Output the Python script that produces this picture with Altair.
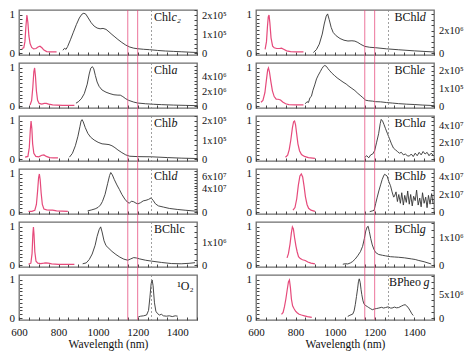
import altair as alt
import pandas as pd
import numpy as np

# ---------------- data ----------------
# fluorescence (normalised, left axis) and phosphorescence (right axis, units of 10^exp)
CHLC2_FLUO = [(614,0.12),(624,0.14),(630,0.3),(635,0.7),(640,1.0),(645,0.8),(650,0.45),(656,0.25),(664,0.15),(674,0.11),(686,0.12),(696,0.16),(706,0.18),(716,0.14),(726,0.08),(740,0.04),(760,0.03),(790,0.03)]
CHLC2_PHOS = [(822,0.15),(830,0.25),(838,0.2),(846,0.35),(860,0.7),(875,1.1),(890,1.5),(905,1.85),(918,2.05),(928,2.1),(938,2.05),(950,1.85),(965,1.6),(980,1.42),(995,1.32),(1010,1.28),(1025,1.3),(1040,1.25),(1055,1.12),(1070,0.98),(1085,0.85),(1100,0.72),(1120,0.56),(1140,0.42),(1160,0.32),(1180,0.26),(1200,0.23),(1230,0.2),(1260,0.18),(1300,0.14),(1340,0.11),(1380,0.09),(1420,0.07),(1460,0.05),(1500,0.03)]

CHLA_FLUO = [(656,0.03),(664,0.15),(670,0.5),(675,0.9),(679,1.0),(683,0.8),(688,0.4),(694,0.15),(702,0.07),(715,0.05),(728,0.07),(738,0.07),(750,0.05),(770,0.03),(820,0.02),(880,0.02)]
CHLA_PHOS = [(888,0.4),(900,0.6),(915,1.0),(930,1.7),(945,3.0),(955,4.4),(963,5.2),(971,5.4),(978,5.1),(986,4.2),(995,3.3),(1005,2.7),(1020,2.2),(1040,1.9),(1060,1.7),(1080,1.55),(1100,1.5),(1112,1.5),(1125,1.3),(1140,1.0),(1155,0.78),(1180,0.55),(1200,0.42),(1240,0.32),(1280,0.25),(1320,0.2),(1380,0.14),(1440,0.1),(1500,0.06)]

CHLB_FLUO = [(631,0.05),(645,0.07),(652,0.3),(657,0.75),(661,1.0),(665,0.8),(669,0.4),(675,0.15),(685,0.07),(700,0.06),(715,0.1),(726,0.11),(738,0.07),(755,0.04),(775,0.03),(797,0.03)]
CHLB_PHOS = [(855,0.1),(870,0.3),(885,0.7),(898,1.2),(908,1.7),(914,2.0),(919,2.07),(925,1.95),(935,1.65),(948,1.35),(962,1.15),(980,1.0),(1000,0.88),(1020,0.8),(1040,0.78),(1055,0.76),(1070,0.7),(1085,0.6),(1100,0.48),(1120,0.34),(1140,0.22),(1160,0.15),(1200,0.13),(1270,0.12),(1350,0.08),(1420,0.05),(1500,0.03)]

CHLD_FLUO = [(648,0.02),(665,0.02),(680,0.05),(688,0.2),(694,0.55),(699,0.9),(703,1.0),(707,0.85),(712,0.5),(718,0.2),(726,0.08),(740,0.06),(755,0.05),(770,0.05),(790,0.03),(847,0.02)]
CHLD_PHOS = [(947,0.2),(965,0.35),(985,0.55),(1000,0.8),(1012,1.2),(1022,1.8),(1035,3.0),(1048,4.8),(1058,6.2),(1064,6.7),(1072,6.3),(1082,5.5),(1095,4.6),(1108,3.8),(1120,3.0),(1135,2.2),(1148,1.7),(1158,1.5),(1168,1.85),(1180,1.75),(1192,1.5),(1202,1.4),(1215,1.6),(1228,1.9),(1242,2.0),(1255,2.15),(1268,2.4),(1278,2.0),(1290,1.4),(1305,1.05),(1330,0.85),(1360,0.62),(1400,0.45),(1440,0.32),(1480,0.2),(1500,0.15)]

BCHLC_FLUO = [(648,0.02),(660,0.05),(666,0.3),(670,0.8),(673,1.0),(676,0.8),(680,0.35),(686,0.1),(695,0.05),(710,0.04),(725,0.05),(736,0.06),(748,0.05),(765,0.03),(800,0.02),(880,0.02)]
BCHLC_PHOS = [(922,0.06),(940,0.1),(955,0.25),(970,0.5),(985,0.9),(995,1.3),(1005,1.6),(1013,1.73),(1020,1.5),(1030,1.1),(1040,0.88),(1055,0.75),(1070,0.62),(1090,0.48),(1110,0.36),(1130,0.27),(1150,0.22),(1165,0.28),(1180,0.34),(1195,0.32),(1210,0.28),(1240,0.22),(1270,0.18),(1320,0.12),(1370,0.07),(1420,0.06),(1460,0.08),(1490,0.11)]

O2_PHOS = [(1203,0.03),(1215,0.05),(1230,0.06),(1245,0.08),(1255,0.2),(1262,0.55),(1268,0.9),(1273,1.0),(1278,0.85),(1285,0.4),(1292,0.18),(1300,0.12),(1310,0.08),(1320,0.1),(1330,0.06),(1345,0.05),(1360,0.06),(1375,0.04),(1390,0.06),(1402,0.05)]

BCHLD_FLUO = [(646,0.1),(653,0.3),(658,0.7),(662,0.95),(666,1.0),(670,0.8),(676,0.4),(684,0.18),(692,0.14),(705,0.12),(718,0.12),(729,0.13),(740,0.1),(755,0.06),(775,0.04),(800,0.03),(840,0.03)]
BCHLD_PHOS = [(890,0.05),(905,0.3),(920,0.8),(935,1.7),(945,2.6),(955,3.3),(962,3.5),(970,3.0),(980,2.3),(990,1.85),(1005,1.55),(1025,1.3),(1045,1.15),(1065,1.08),(1085,1.1),(1100,1.07),(1115,0.95),(1130,0.78),(1150,0.6),(1175,0.52),(1205,0.48),(1260,0.38),(1320,0.3),(1400,0.2),(1500,0.1)]

BCHLE_FLUO = [(625,0.1),(635,0.15),(645,0.35),(653,0.7),(659,0.95),(663,1.0),(668,0.9),(675,0.65),(683,0.4),(692,0.25),(702,0.18),(712,0.18),(724,0.16),(735,0.11),(750,0.06),(766,0.04),(800,0.03),(840,0.03)]
BCHLE_PHOS = [(849,0.13),(858,0.25),(865,0.2),(873,0.48),(880,0.55),(888,0.9),(897,1.2),(906,1.54),(915,1.75),(925,1.95),(933,2.12),(941,2.25),(948,2.3),(956,2.25),(964,2.12),(973,2.0),(985,1.85),(998,1.72),(1010,1.6),(1025,1.48),(1040,1.36),(1056,1.25),(1070,1.12),(1085,1.0),(1100,0.88),(1115,0.72),(1130,0.58),(1140,0.48),(1155,0.33),(1170,0.3),(1190,0.28),(1205,0.25),(1230,0.24),(1260,0.2),(1290,0.17),(1320,0.14),(1360,0.11),(1400,0.09),(1440,0.06),(1480,0.04),(1500,0.02)]

BCHLA_FLUO = [(749,0.05),(760,0.1),(768,0.25),(776,0.5),(784,0.82),(790,0.98),(795,1.0),(800,0.9),(806,0.65),(812,0.4),(820,0.22),(830,0.12),(845,0.07),(865,0.04),(898,0.02)]
BCHLA_PHOS = [(1150,0.2),(1160,0.4),(1170,0.15),(1180,0.5),(1190,0.6),(1200,1.0),(1210,2.0),(1220,3.0),(1228,4.2),(1233,4.7),(1240,4.5),(1247,4.1),(1255,3.6),(1265,3.0),(1275,2.4),(1285,1.8),(1295,1.3),(1305,1.1),(1315,0.9),(1325,0.7),(1335,0.8),(1345,0.5),(1355,0.6),(1365,0.4),(1375,0.35),(1385,0.6),(1395,0.3),(1405,0.7),(1415,0.4),(1425,0.8),(1435,0.5),(1445,0.9),(1455,0.6),(1465,0.8),(1475,0.4),(1485,0.7),(1495,0.5)]

BCHLB_FLUO = [(787,0.05),(797,0.12),(806,0.35),(814,0.7),(822,0.95),(829,1.0),(836,0.92),(843,0.68),(850,0.4),(858,0.2),(866,0.1),(878,0.05),(898,0.02)]
BCHLB_PHOS = [(1175,0.05),(1190,0.15),(1197,0.2),(1205,0.96),(1213,1.7),(1221,2.4),(1230,3.1),(1238,3.7),(1245,4.1),(1250,4.3),(1257,4.2),(1263,4.1),(1271,3.5),(1280,3.0),(1288,2.3),(1296,1.7),(1300,1.8),(1308,2.3),(1315,1.2),(1322,2.0),(1330,1.0),(1337,2.2),(1345,0.8),(1352,1.9),(1360,1.1),(1367,2.4),(1375,0.9),(1382,2.0),(1390,0.7),(1397,1.8),(1405,1.3),(1412,2.5),(1420,0.8),(1428,1.6),(1435,0.6),(1442,2.2),(1450,1.0),(1458,1.7),(1465,0.5),(1472,1.9),(1480,0.9),(1488,2.1),(1495,1.0)]

BCHLG_FLUO = [(757,0.19),(764,0.3),(772,0.55),(779,0.85),(784,1.0),(789,0.95),(795,0.72),(802,0.5),(808,0.35),(815,0.22),(824,0.17),(835,0.14),(849,0.12),(862,0.08),(878,0.05),(898,0.03)]
BCHLG_PHOS = [(1039,0.03),(1052,0.05),(1064,0.04),(1078,0.08),(1089,0.13),(1102,0.22),(1114,0.33),(1128,0.48),(1139,0.67),(1148,0.95),(1155,1.22),(1162,1.36),(1167,1.39),(1173,1.2),(1180,0.95),(1188,0.72),(1197,0.55),(1205,0.45),(1220,0.38),(1240,0.35),(1255,0.33),(1280,0.3),(1300,0.29),(1321,0.28),(1350,0.26),(1387,0.22),(1405,0.2),(1420,0.17),(1450,0.12),(1486,0.04)]

BPHEOG_FLUO = [(729,0.1),(737,0.15),(744,0.3),(751,0.5),(758,0.75),(764,0.95),(769,1.0),(774,0.8),(779,0.5),(785,0.32),(792,0.25),(800,0.18),(808,0.14),(818,0.1),(830,0.08),(845,0.06),(860,0.04),(882,0.02)]
BPHEOG_PHOS = [(1064,0.35),(1075,0.6),(1089,0.83),(1096,1.5),(1102,2.8),(1108,4.5),(1114,6.25),(1118,7.6),(1122,8.2),(1127,7.4),(1131,6.0),(1135,4.9),(1141,3.6),(1147,2.9),(1155,2.6),(1163,2.4),(1170,2.2),(1178,2.0),(1188,1.75),(1198,1.9),(1210,2.0),(1221,2.1),(1235,2.25),(1245,2.1),(1255,2.2),(1268,2.35),(1280,2.1),(1288,2.1),(1300,2.3),(1310,2.15),(1321,2.2),(1335,2.5),(1345,2.7),(1354,2.8),(1362,2.55),(1371,2.1),(1380,1.5),(1388,0.9),(1395,0.55)]

# right-axis: exponent, labelled ticks, minor step, top of domain; label parts and position
LEFT_PANELS = [
    dict(fluo=CHLC2_FLUO, phos=CHLC2_PHOS, exp=5, ticks=[0, 1, 2], step=0.25, hi=2.27, lab=("Chl", "c₂"), lnm=1283, ly=2),
    dict(fluo=CHLA_FLUO, phos=CHLA_PHOS, exp=6, ticks=[0, 2, 4], step=0.5, hi=5.9, lab=("Chl", "a"), lnm=1283, ly=2),
    dict(fluo=CHLB_FLUO, phos=CHLB_PHOS, exp=5, ticks=[0, 1, 2], step=0.25, hi=2.26, lab=("Chl", "b"), lnm=1283, ly=2),
    dict(fluo=CHLD_FLUO, phos=CHLD_PHOS, exp=7, ticks=[0, 4, 6], step=0.5, hi=7.3, lab=("Chl", "d"), lnm=1283, ly=2),
    dict(fluo=BCHLC_FLUO, phos=BCHLC_PHOS, exp=6, ticks=[0, 1], step=0.25, hi=1.95, lab=("BChlc", ""), lnm=1283, ly=2),
    dict(fluo=None, phos=O2_PHOS, exp=None, ticks=None, step=None, hi=None, lab=("¹O₂", ""), lnm=1400, ly=6),
]
RIGHT_PANELS = [
    dict(fluo=BCHLD_FLUO, phos=BCHLD_PHOS, exp=6, ticks=[0, 2], step=0.5, hi=3.85, lab=("BChl", "d"), lnm=1300, ly=2),
    dict(fluo=BCHLE_FLUO, phos=BCHLE_PHOS, exp=5, ticks=[0, 1, 2], step=0.25, hi=2.44, lab=("BChl", "e"), lnm=1300, ly=2),
    dict(fluo=BCHLA_FLUO, phos=BCHLA_PHOS, exp=7, ticks=[0, 2, 4], step=0.5, hi=5.1, lab=("BChl", "a"), lnm=1300, ly=2),
    dict(fluo=BCHLB_FLUO, phos=BCHLB_PHOS, exp=7, ticks=[0, 2, 4], step=0.5, hi=4.9, lab=("BChl", "b"), lnm=1300, ly=2),
    dict(fluo=BCHLG_FLUO, phos=BCHLG_PHOS, exp=6, ticks=[0, 1], step=0.25, hi=1.54, lab=("BChl", "g"), lnm=1300, ly=2),
    dict(fluo=BPHEOG_FLUO, phos=BPHEOG_PHOS, exp=6, ticks=[0, 5], step=1.25, hi=9.0, lab=("BPheo ", "g"), lnm=1272, ly=2),
]
MARK_NM = [1150, 1200]
O2_NM = [1270]

# ---------------- styling ----------------
W, H = 178, 45
GAP = 8
FONT = "Liberation Serif"
RED = "#e64a7b"
BLACK = "#333333"
LEFT_DOMAIN = [-0.05, 1.13]
LEFT_TICKS = [round(i * 0.1, 1) for i in range(11)]
SUP = {5: "⁵", 6: "⁶", 7: "⁷"}
WIDTHS = {"Chl": 17.3, "BChl": 25.3, "BPheo ": 34.5}


def df(pairs):
    return pd.DataFrame(pairs, columns=["nm", "v"])


def x_enc(bottom):
    ax = dict(values=list(range(600, 1501, 50)), tickSize=3, offset=-3, labelPadding=6,
              labelFlush=False, labelFontSize=11, tickColor="#444", domain=False, grid=False)
    if bottom:
        ax.update(labelExpr="datum.value % 200 == 0 && datum.value <= 1400 ? datum.value : ''",
                  title="Wavelength (nm)", titleFontSize=11.5, titleFontWeight="normal",
                  titlePadding=1, titleFont=FONT, labelFont=FONT)
    else:
        ax.update(labels=False, title=None)
    return alt.X("nm:Q", scale=alt.Scale(domain=[600, 1500], nice=False, zero=False), axis=alt.Axis(**ax))


def left_y():
    return alt.Y("v:Q", scale=alt.Scale(domain=LEFT_DOMAIN, nice=False, zero=False),
                 axis=alt.Axis(orient="left", values=LEFT_TICKS, tickSize=2.5, offset=-3, labelPadding=5,
                               labelExpr="datum.value == 0 ? '0' : (datum.value == 1 ? '1' : '')",
                               labelFont=FONT, labelFontSize=11, title=None, domain=False, grid=False,
                               tickColor="#444"))


def right_y(p):
    lo = -p["hi"] * 0.05 / 1.13
    vals = [float(v) for v in np.arange(0, p["hi"], p["step"])]
    sup = SUP[p["exp"]]
    lab = ",".join(str(t) for t in p["ticks"] if t != 0)
    expr = ("datum.value == 0 ? '0' : (indexof([%s], datum.value) >= 0 ? datum.value + 'x10%s' : '')"
            % (lab, sup))
    return alt.Y("v:Q", scale=alt.Scale(domain=[lo, p["hi"]], nice=False, zero=False),
                 axis=alt.Axis(orient="right", values=vals, tickSize=2.5, offset=-3, labelPadding=5,
                               labelExpr=expr, labelFont=FONT, labelFontSize=10.5, title=None,
                               domain=False, grid=False, tickColor="#444"))


def panel(p, top, bottom):
    xe = x_enc(bottom)
    layers = []
    if p["fluo"] is not None:
        layers.append(alt.Chart(df(p["fluo"])).mark_line(color=RED, strokeWidth=1.2)
                      .encode(x=xe, y=left_y()))
        layers.append(alt.Chart(df(p["phos"])).mark_line(color=BLACK, strokeWidth=0.9)
                      .encode(x=xe, y=right_y(p)))
    else:
        layers.append(alt.Chart(df(p["phos"])).mark_line(color=BLACK, strokeWidth=0.9)
                      .encode(x=xe, y=left_y()))
    layers.append(alt.Chart(pd.DataFrame({"nm": O2_NM})).mark_rule(color="#888", strokeDash=[2, 2], strokeWidth=0.8)
                  .encode(x=xe, y=alt.value(0), y2=alt.value(H)))
    y_top = 0 if top else -GAP / 2
    y_bot = H if bottom else H + GAP / 2
    layers.append(alt.Chart(pd.DataFrame({"nm": MARK_NM})).mark_rule(color=RED, strokeWidth=0.9, opacity=0.85)
                  .encode(x=xe, y=alt.value(y_top), y2=alt.value(y_bot)))
    up, it = p["lab"]
    tdf = pd.DataFrame({"nm": [p["lnm"]], "t": [up], "i": [it]})
    layers.append(alt.Chart(tdf).mark_text(align="left", baseline="top", font=FONT, fontSize=12, color="#111")
                  .encode(x=xe, y=alt.value(p["ly"]), text="t:N"))
    if it:
        layers.append(alt.Chart(tdf).mark_text(align="left", baseline="top", font=FONT, fontSize=12,
                                               fontStyle="italic", color="#111", dx=WIDTHS.get(up, 17.3))
                      .encode(x=xe, y=alt.value(p["ly"]), text="i:N"))
    return alt.layer(*layers).resolve_scale(y="independent").properties(width=W, height=H)


def column(panels):
    n = len(panels)
    return alt.vconcat(*[panel(p, i == 0, i == n - 1) for i, p in enumerate(panels)],
                       spacing=GAP, bounds="flush")


chart = (alt.hconcat(column(LEFT_PANELS), column(RIGHT_PANELS), spacing=18)
         .properties(padding={"left": 0, "top": 0, "right": 0, "bottom": 0})
         .configure_view(stroke="#6e6e6e", strokeWidth=1.3)
         .configure_axis(labelColor="#111", titleColor="#111"))

chart.save("out.html", embed_options={"renderer": "svg", "actions": False})
